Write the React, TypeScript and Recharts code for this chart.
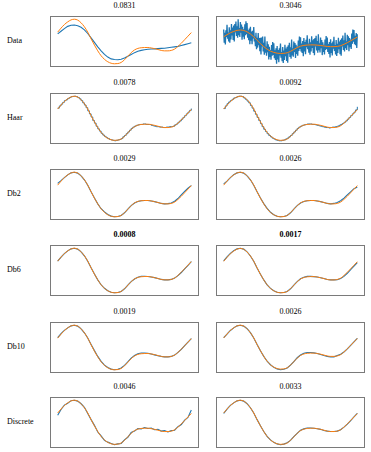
import React from "react";
import { Line, LineChart, XAxis, YAxis } from "recharts";

// true signal, 41 samples over [0, 1] (orange in every panel)
const truth = [
  0.71, 0.8, 0.88, 0.94, 0.985, 1.0, 0.98, 0.92, 0.83, 0.71, 0.56, 0.42, 0.29,
  0.18, 0.1, 0.045, 0.012, 0.0, 0.005, 0.03, 0.09, 0.17, 0.25, 0.31, 0.345,
  0.36, 0.365, 0.365, 0.355, 0.34, 0.32, 0.3, 0.29, 0.29, 0.3, 0.33, 0.39,
  0.46, 0.54, 0.62, 0.7,
];

// row "Data"
const dataSmooth = [
  0.67, 0.73, 0.79, 0.84, 0.865, 0.87, 0.855, 0.82, 0.76, 0.68, 0.58, 0.48,
  0.38, 0.29, 0.21, 0.15, 0.11, 0.095, 0.09, 0.1, 0.13, 0.17, 0.21, 0.25, 0.28,
  0.3, 0.315, 0.325, 0.33, 0.335, 0.34, 0.345, 0.35, 0.36, 0.37, 0.38, 0.39,
  0.41, 0.43, 0.45, 0.47,
];
// noisy observations, 241 samples
const dataNoisy = [
  1.02, 0.46, 0.88, 0.38, 0.99, 0.7, 1.22, 0.63, 0.89, 0.51, 1.12, 0.46,
  0.99, 0.6, 1.26, 0.77, 1.11, 0.58, 1.19, 0.51, 1.26, 0.9, 1.36, 0.75,
  1.16, 0.67, 1.46, 0.78, 1.08, 0.7, 1.34, 0.88, 1.23, 0.59, 1.14, 0.72,
  1.03, 0.61, 1.24, 0.78, 1.37, 0.82, 1.3, 0.67, 0.99, 0.57, 1.06, 0.39,
  1.14, 0.54, 0.93, 0.39, 0.97, 0.64, 1.13, 0.51, 0.72, 0.31, 0.88, 0.18,
  0.67, 0.25, 0.87, 0.35, 0.66, 0.09, 0.67, -0.04, 0.68, 0.3, 0.72, 0.08,
  0.46, -0.05, 0.72, 0.03, 0.3, -0.1, 0.52, 0.05, 0.39, -0.26, 0.28, -0.15,
  0.15, -0.27, 0.36, -0.1, 0.49, -0.06, 0.43, -0.2, 0.13, -0.28, 0.22, -0.44,
  0.32, -0.26, 0.15, -0.37, 0.22, -0.09, 0.42, -0.18, 0.06, -0.33, 0.27, -0.41,
  0.12, -0.28, 0.37, -0.12, 0.21, -0.32, 0.28, -0.4, 0.35, 0.0, 0.46, -0.15,
  0.26, -0.22, 0.59, -0.08, 0.22, -0.14, 0.51, 0.06, 0.44, -0.19, 0.37, -0.02,
  0.3, -0.1, 0.55, 0.11, 0.72, 0.19, 0.69, 0.08, 0.42, 0.02, 0.53, -0.12,
  0.66, 0.08, 0.49, -0.03, 0.58, 0.27, 0.78, 0.18, 0.42, 0.03, 0.63, -0.05,
  0.48, 0.08, 0.73, 0.23, 0.56, 0.02, 0.62, -0.08, 0.66, 0.3, 0.75, 0.13,
  0.53, 0.03, 0.82, 0.14, 0.43, 0.04, 0.68, 0.22, 0.57, -0.07, 0.48, 0.06,
  0.37, -0.04, 0.59, 0.15, 0.74, 0.19, 0.68, 0.06, 0.4, -0.02, 0.49, -0.17,
  0.6, 0.02, 0.43, -0.09, 0.51, 0.2, 0.71, 0.11, 0.36, -0.04, 0.57, -0.11,
  0.41, 0.02, 0.67, 0.18, 0.51, -0.03, 0.58, -0.1, 0.65, 0.3, 0.76, 0.15,
  0.56, 0.08, 0.88, 0.22, 0.52, 0.15, 0.8, 0.35, 0.73, 0.1, 0.66, 0.27,
  0.59, 0.19, 0.85, 0.41, 1.02, 0.5, 1.0, 0.39, 0.75, 0.35, 0.87, 0.23,
  0.82,
];

// row "Haar" (81 samples, piecewise constant; last value closes the final step)
const haarLeft = [
  0.73, 0.78, 0.82, 0.86, 0.9, 0.92, 0.95, 0.97, 0.99, 0.995, 1.0, 0.99, 0.97,
  0.94, 0.9, 0.85, 0.8, 0.74, 0.67, 0.6, 0.53, 0.45, 0.39, 0.32, 0.26, 0.21,
  0.16, 0.12, 0.09, 0.06, 0.04, 0.02, 0.01, 0.0, -0.01, 0.0, 0.01, 0.02, 0.04,
  0.08, 0.11, 0.15, 0.19, 0.23, 0.27, 0.3, 0.32, 0.34, 0.35, 0.36, 0.36, 0.37,
  0.37, 0.36, 0.36, 0.36, 0.34, 0.33, 0.32, 0.31, 0.31, 0.3, 0.3, 0.29, 0.29,
  0.3, 0.3, 0.31, 0.31, 0.32, 0.35, 0.37, 0.41, 0.44, 0.48, 0.52, 0.56, 0.6,
  0.64, 0.68, 0.72,
];
const haarRight = [
  0.72, 0.78, 0.83, 0.87, 0.9, 0.93, 0.96, 0.97, 0.99, 1.0, 1.0, 0.99, 0.96,
  0.93, 0.89, 0.85, 0.79, 0.73, 0.66, 0.59, 0.52, 0.45, 0.38, 0.31, 0.25, 0.2,
  0.15, 0.11, 0.08, 0.05, 0.03, 0.01, 0.0, -0.01, -0.01, 0.0, 0.01, 0.03, 0.05,
  0.08, 0.11, 0.15, 0.19, 0.23, 0.27, 0.3, 0.32, 0.34, 0.35, 0.36, 0.37, 0.37,
  0.37, 0.36, 0.36, 0.35, 0.34, 0.33, 0.32, 0.31, 0.3, 0.29, 0.29, 0.28, 0.29,
  0.3, 0.3, 0.31, 0.32, 0.34, 0.36, 0.38, 0.41, 0.44, 0.48, 0.52, 0.56, 0.6,
  0.64, 0.69, 0.76,
];

// rows "Db2", "Db6", "Db10", "Discrete"
const db2Left = [
  0.75, 0.81, 0.88, 0.94, 0.985, 1.0, 0.98, 0.92, 0.83, 0.71, 0.56, 0.42, 0.29,
  0.18, 0.11, 0.05, 0.015, 0.0, 0.005, 0.03, 0.09, 0.17, 0.25, 0.31, 0.345,
  0.36, 0.365, 0.365, 0.355, 0.34, 0.32, 0.3, 0.29, 0.295, 0.31, 0.35, 0.41,
  0.49, 0.57, 0.64, 0.7,
];
const db2Right = [
  0.74, 0.8, 0.88, 0.945, 0.985, 1.0, 0.98, 0.92, 0.83, 0.71, 0.56, 0.42, 0.295,
  0.19, 0.1, 0.045, 0.012, 0.0, 0.005, 0.03, 0.09, 0.17, 0.25, 0.31, 0.345,
  0.36, 0.365, 0.365, 0.355, 0.34, 0.32, 0.3, 0.29, 0.3, 0.32, 0.36, 0.42,
  0.49, 0.56, 0.63, 0.67,
];
const db6Left = [
  0.71, 0.8, 0.88, 0.94, 0.985, 1.0, 0.98, 0.92, 0.83, 0.71, 0.56, 0.42, 0.29,
  0.18, 0.1, 0.045, 0.012, 0.0, 0.005, 0.03, 0.09, 0.17, 0.25, 0.31, 0.35, 0.37,
  0.37, 0.365, 0.355, 0.34, 0.32, 0.3, 0.29, 0.29, 0.3, 0.33, 0.385, 0.455,
  0.535, 0.615, 0.7,
];
const db6Right = [
  0.72, 0.81, 0.89, 0.95, 0.99, 1.005, 0.985, 0.925, 0.83, 0.71, 0.56, 0.42,
  0.29, 0.18, 0.1, 0.045, 0.012, 0.0, 0.005, 0.03, 0.09, 0.17, 0.25, 0.315,
  0.35, 0.37, 0.37, 0.365, 0.355, 0.34, 0.32, 0.3, 0.29, 0.29, 0.295, 0.32,
  0.37, 0.44, 0.52, 0.6, 0.68,
];
const db10Left = [
  0.72, 0.81, 0.885, 0.94, 0.985, 1.0, 0.98, 0.92, 0.83, 0.715, 0.57, 0.43, 0.3,
  0.19, 0.105, 0.05, 0.015, 0.0, 0.01, 0.04, 0.1, 0.18, 0.26, 0.32, 0.36, 0.375,
  0.375, 0.37, 0.355, 0.335, 0.315, 0.3, 0.29, 0.29, 0.3, 0.33, 0.39, 0.46,
  0.54, 0.62, 0.7,
];
const db10Right = [
  0.72, 0.8, 0.88, 0.94, 0.985, 1.0, 0.98, 0.92, 0.83, 0.71, 0.56, 0.42, 0.29,
  0.18, 0.1, 0.04, 0.005, -0.015, -0.005, 0.025, 0.09, 0.17, 0.26, 0.32, 0.36,
  0.38, 0.38, 0.37, 0.355, 0.335, 0.31, 0.29, 0.28, 0.28, 0.31, 0.34, 0.39,
  0.46, 0.54, 0.62, 0.7,
];
const discreteLeft = [
  0.66, 0.79, 0.89, 0.93, 0.99, 1.0, 0.98, 0.92, 0.84, 0.7, 0.56, 0.43, 0.28,
  0.19, 0.09, 0.05, 0.02, -0.01, 0.01, 0.02, 0.1, 0.16, 0.27, 0.3, 0.36, 0.35,
  0.38, 0.36, 0.37, 0.33, 0.34, 0.3, 0.31, 0.28, 0.31, 0.32, 0.4, 0.45, 0.55,
  0.61, 0.78,
];
const discreteRight = [
  0.7, 0.8, 0.885, 0.94, 0.985, 1.0, 0.98, 0.92, 0.83, 0.71, 0.56, 0.42, 0.29,
  0.18, 0.1, 0.045, 0.01, -0.01, 0.005, 0.035, 0.09, 0.175, 0.25, 0.32, 0.35,
  0.37, 0.37, 0.365, 0.355, 0.34, 0.315, 0.3, 0.29, 0.29, 0.3, 0.33, 0.39,
  0.46, 0.54, 0.62, 0.7,
];

const rowLabels = ["Data", "Haar", "Db2", "Db6", "Db10", "Discrete"];
const leftScores = ["0.0831", "0.0078", "0.0029", "0.0008", "0.0019", "0.0046"];
const rightScores = ["0.3046", "0.0092", "0.0026", "0.0017", "0.0026", "0.0033"];
const leftSeries = [dataSmooth, haarLeft, db2Left, db6Left, db10Left, discreteLeft];
const rightSeries = [dataNoisy, haarRight, db2Right, db6Right, db10Right, discreteRight];

const BLUE = "#1f77b4";
const ORANGE = "#ff7f0e";
const FONT = '"Times New Roman", "Liberation Serif", "DejaVu Serif", serif';
const rowTops = [16, 93, 169, 245, 322, 397];
const boldRow = 3;

const buildRows = (blue: number[]) => {
  const n = blue.length - 1;
  const step = n / (truth.length - 1);
  return blue.map((b, i) => ({
    t: i / n,
    blue: b,
    orange: i % step === 0 ? truth[i / step] : null,
  }));
};

const padDomain = ([lo, hi]: [number, number]) => {
  const p = (hi - lo) * 0.05;
  return [lo - p, hi + p] as [number, number];
};

const Panel: React.FC<{
  blue: number[];
  stepped: boolean;
  noisy: boolean;
  title: string;
  bold: boolean;
  x: number;
  y: number;
}> = ({ blue, stepped, noisy, title, bold, x, y }) => (
  <>
    <div
      style={{
        position: "absolute",
        left: x,
        top: y - 15,
        width: 149,
        textAlign: "center",
        fontSize: 8,
        lineHeight: "10px",
        fontWeight: bold ? 700 : 400,
      }}
    >
      {title}
    </div>
    <div
      style={{
        position: "absolute",
        left: x,
        top: y,
        width: 149,
        height: 51,
        boxSizing: "border-box",
        border: "1px solid #7a7a7a",
      }}
    >
      <LineChart
        width={147}
        height={49}
        data={buildRows(blue)}
        margin={{ top: 0, right: 0, bottom: 0, left: 0 }}
      >
        <XAxis type="number" dataKey="t" domain={[-0.05, 1.05]} hide allowDataOverflow />
        <YAxis type="number" domain={padDomain} hide />
        <Line
          dataKey="blue"
          type={stepped ? "stepAfter" : "linear"}
          stroke={BLUE}
          strokeWidth={noisy ? 1.3 : stepped ? 1 : 1.1}
          dot={false}
          isAnimationActive={false}
        />
        <Line
          dataKey="orange"
          type="monotone"
          stroke={ORANGE}
          strokeWidth={1}
          dot={false}
          connectNulls
          isAnimationActive={false}
        />
      </LineChart>
    </div>
  </>
);

export default function App() {
  return (
    <div
      style={{
        position: "absolute",
        left: 0,
        top: 0,
        width: 371,
        height: 452,
        background: "#fff",
        fontFamily: FONT,
        color: "#000",
      }}
    >
      {rowLabels.map((label, r) => (
        <React.Fragment key={label}>
          <div
            style={{
              position: "absolute",
              left: 7,
              top: rowTops[r] + 20,
              fontSize: 8,
              lineHeight: "10px",
            }}
          >
            {label}
          </div>
          <Panel
            blue={leftSeries[r]}
            stepped={r === 1}
            noisy={false}
            title={leftScores[r]}
            bold={r === boldRow}
            x={50}
            y={rowTops[r]}
          />
          <Panel
            blue={rightSeries[r]}
            stepped={r === 1}
            noisy={r === 0}
            title={rightScores[r]}
            bold={r === boldRow}
            x={216}
            y={rowTops[r]}
          />
        </React.Fragment>
      ))}
    </div>
  );
}
